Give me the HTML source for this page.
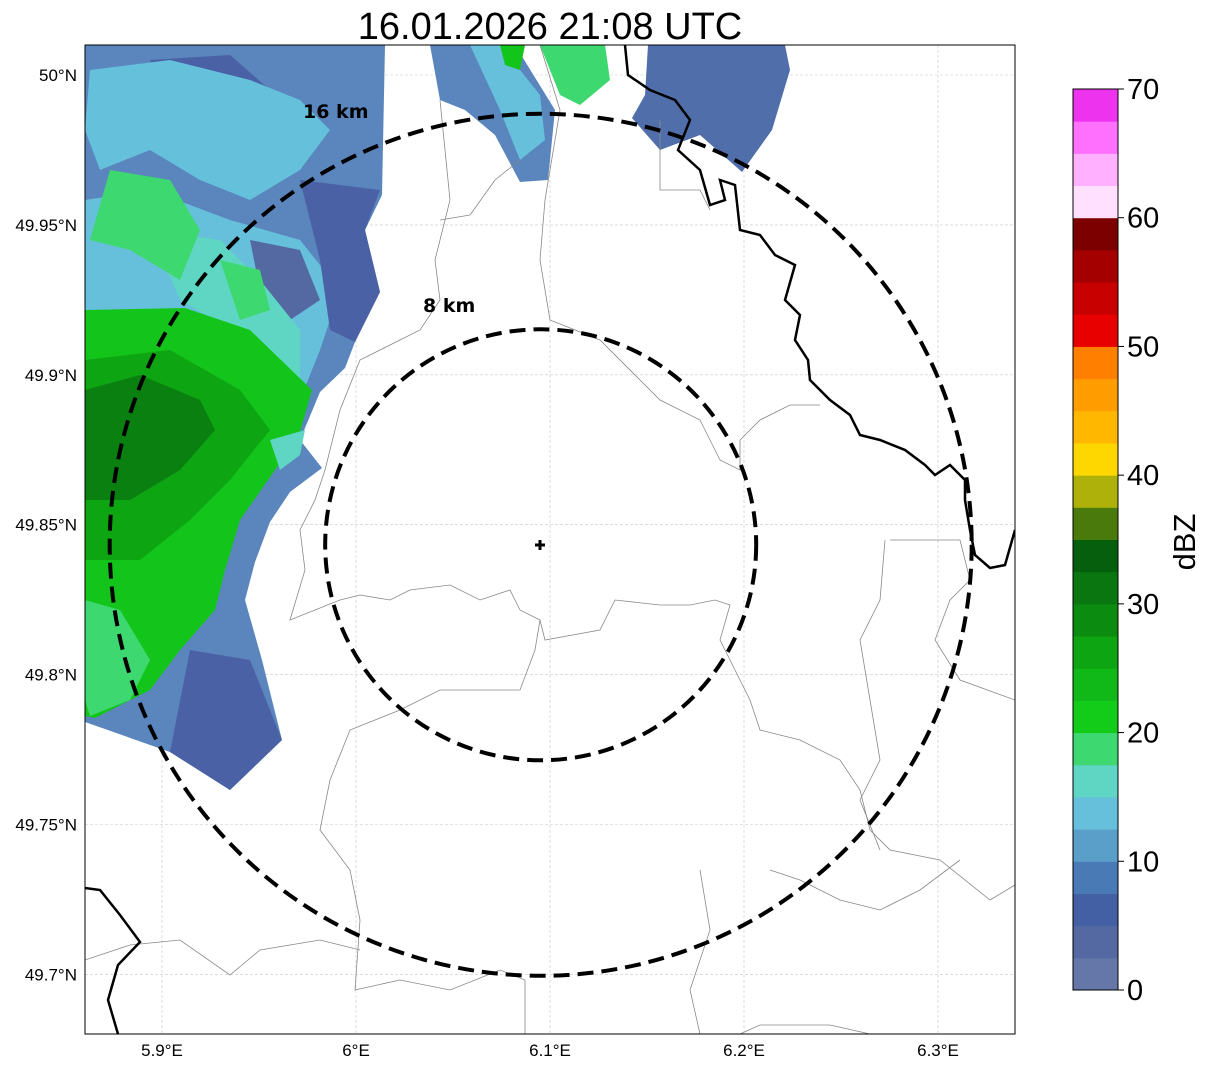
<!DOCTYPE html>
<html><head><meta charset="utf-8"><style>
html,body{margin:0;padding:0;background:#fff;}
svg{display:block;font-family:"Liberation Sans","DejaVu Sans",sans-serif;}
</style></head><body>
<svg id="chart" width="1207" height="1069" viewBox="0 0 1207 1069">
<defs><clipPath id="mapclip"><rect x="85" y="45" width="930" height="989"/></clipPath></defs>
<text x="550" y="39" text-anchor="middle" font-size="38" fill="#000">16.01.2026 21:08 UTC</text>
<g clip-path="url(#mapclip)">
<g id="grid"></g>
<g>
<polygon fill="#5a86bd" points="85,45 385,45 382,195 365,230 380,292 355,342 345,368 320,392 300,440 322,468 290,492 270,522 255,562 245,600 262,660 282,740 230,790 170,752 85,722"/>
<polygon fill="#4a62a5" points="150,60 230,55 270,90 230,120 170,110"/>
<polygon fill="#65c0dc" points="90,70 170,60 250,80 300,100 330,130 300,170 250,200 200,180 150,150 100,170 85,130"/>
<polygon fill="#66c0dc" points="85,200 150,190 230,220 300,240 340,290 320,350 300,400 290,440 260,470 200,330 120,320 85,310"/>
<polygon fill="#4a62a5" points="300,180 380,190 365,230 380,292 355,342 330,330 320,260"/>
<polygon fill="#5468a2" points="250,240 300,250 320,300 290,320 260,290"/>
<polygon fill="#4a62a5" points="190,650 250,660 282,740 230,790 170,752"/>
<polygon fill="#5fd6c4" points="150,230 220,240 260,280 300,330 300,380 250,340 180,300"/>
<polygon fill="#3dd870" points="110,170 170,180 200,230 180,280 130,250 90,240"/>
<polygon fill="#3dd870" points="220,260 260,270 270,310 240,320"/>
<polygon fill="#13c41a" points="85,310 185,308 250,330 312,390 300,432 275,470 240,520 225,570 215,610 180,650 150,690 95,718 85,716"/>
<polygon fill="#0ea512" points="85,360 170,350 240,390 270,430 230,480 190,520 140,560 85,560"/>
<polygon fill="#0a8010" points="85,390 140,375 200,400 215,430 180,470 130,500 85,500"/>
<polygon fill="#5fd6c4" points="270,440 305,430 300,455 280,470"/>
<polygon fill="#3dd870" points="85,600 120,610 150,660 130,700 90,716 85,700"/>
<polygon fill="#5a86bd" points="430,45 515,45 555,110 548,180 520,182 495,135 465,110 440,100"/>
<polygon fill="#66c0dc" points="470,45 500,45 540,95 545,140 520,160 500,110"/>
<polygon fill="#3dd870" points="540,45 605,45 610,80 580,105 560,95"/>
<polygon fill="#13c41a" points="500,45 525,45 520,70 505,65"/>
<polygon fill="#4f6eaa" points="648,45 785,45 790,70 772,130 742,172 700,135 660,150 632,118 645,95"/>
</g>
<g fill="none" stroke="#888" stroke-width="0.8">
<polyline points="540,45 560,110 545,200 540,260 550,320 600,340 640,380 660,400 700,420 720,460 740,470 740,440 760,420 790,405 820,405"/>
<polyline points="440,100 450,200 435,260 440,300 420,330 360,360 340,410 325,470 315,500 300,530 305,570 290,620 340,600 360,595 390,600 410,590 450,585 480,600 510,590 520,610 540,620 545,640 600,630 615,600 660,605 690,605 715,600 730,605 720,640 740,680 750,700 760,730 800,740 840,760 860,790 870,830 890,850 940,860 990,900 1015,885"/>
<polyline points="440,220 470,215 495,180 520,160"/>
<polyline points="660,120 660,190 700,190 710,210"/>
<polyline points="540,620 535,650 520,690 440,690 400,710 350,730 330,780 320,830 350,870 360,920 355,990 400,980 450,990 500,970 525,980 525,1034"/>
<polyline points="85,960 130,945 180,940 230,975 260,950 320,940 360,950"/>
<polyline points="700,870 710,930 690,990 700,1034"/>
<polyline points="770,870 800,880 840,900 880,910 920,890 960,860"/>
<polyline points="890,540 960,540 970,580 950,600 935,640 960,680 1015,700"/>
<polyline points="885,540 880,600 860,640 870,700 880,760 860,800 880,850"/>
<polyline points="740,1034 760,1025 830,1025 870,1034"/>
</g>
<g fill="none" stroke="#000" stroke-width="2.5">
<polyline points="625,45 628,75 650,90 675,100 690,120 678,150 700,170 710,205 725,200 720,180 735,185 740,230 760,235 775,255 795,265 785,300 800,315 795,340 808,360 810,380 830,400 850,415 860,435 880,440 905,450 925,465 935,475 950,465 965,480 965,500 970,530 975,555 990,568 1005,565 1015,530"/>
<polyline points="85,888 100,890 120,915 140,942 118,965 108,1000 118,1034"/>
</g>
<g id="rings"></g>
<text x="303" y="118" font-size="19" font-weight="bold" font-family="DejaVu Sans, sans-serif">16 km</text>
<text x="423" y="312" font-size="19" font-weight="bold" font-family="DejaVu Sans, sans-serif">8 km</text>
<g stroke="#000" stroke-width="3"><line x1="535" y1="545" x2="545" y2="545"/><line x1="540" y1="540" x2="540" y2="550"/></g>
</g>
<rect x="85" y="45" width="930" height="989" fill="none" stroke="#000" stroke-width="1"/>
<g id="ticks"></g>
<g id="cbar"></g>
<text transform="translate(1195,542) rotate(-90)" text-anchor="middle" font-size="31">dBZ</text>
</svg>
<script>
const lonTicks=[5.9,6.0,6.1,6.2,6.3];
const lonLabels=["5.9°E","6°E","6.1°E","6.2°E","6.3°E"];
const latTicks=[50.0,49.95,49.9,49.85,49.8,49.75,49.7];
const latLabels=["50°N","49.95°N","49.9°N","49.85°N","49.8°N","49.75°N","49.7°N"];
const ringKm=[8,16];
const siteLon=6.0952, siteLat=49.8433;
const cbarColors=["#6577a8","#5468a2","#4460a5","#4a7ab5","#5a9fca","#66c0dc","#5fd6c4","#3dd870","#13cc1a","#10b818","#0ea512","#0b8c10","#0a7610","#065f0c","#4a7a0c","#aeb10a","#ffd700","#ffb700","#ff9d00","#ff7f00","#e80000","#c80000","#a50000","#7d0000","#ffe0ff","#ffb0ff","#ff70ff","#ee33ee"];
const cbarTicks=[0,10,20,30,40,50,60,70];
const NS="http://www.w3.org/2000/svg";
const xS=lon=>162+(lon-5.9)*1940;
const yS=lat=>75+(50-lat)*2998;
const cb=v=>990-(v/70)*901;
function mk(tag,attrs,parent){const e=document.createElementNS(NS,tag);for(const k in attrs)e.setAttribute(k,attrs[k]);parent.appendChild(e);return e;}
const grid=document.getElementById('grid'),ticks=document.getElementById('ticks');
lonTicks.forEach((v,i)=>{
 const l=mk('line',{x1:xS(v),x2:xS(v),y1:45,y2:1034,stroke:'#c8c8c8','stroke-width':0.6,'stroke-dasharray':'3 2'},grid);
 
 
 const t=mk('text',{x:xS(v),y:1056,'text-anchor':'middle','font-size':17},ticks);t.textContent=lonLabels[i];
 
 
});
latTicks.forEach((v,i)=>{
 const l=mk('line',{x1:85,x2:1015,y1:yS(v),y2:yS(v),stroke:'#c8c8c8','stroke-width':0.6,'stroke-dasharray':'3 2'},grid);
 
 
 const t=mk('text',{x:77,y:yS(v)+6,'text-anchor':'end','font-size':17},ticks);t.textContent=latLabels[i];
 
 
});
const rings=document.getElementById('rings');
const pxPerKm=431/16;
ringKm.forEach(k=>{
 const c=mk('circle',{cx:xS(siteLon),cy:yS(siteLat),r:k*pxPerKm,fill:'none',stroke:'#000','stroke-width':4,'stroke-dasharray':'16 8'},rings);
 
 
});
const cbar=document.getElementById('cbar');
cbarColors.forEach((col,i)=>{
 const v0=i*2.5,v1=(i+1)*2.5;
 const r=mk('rect',{x:1073,y:cb(v1),width:45,height:cb(v0)-cb(v1)+0.5,fill:col},cbar);
 
 
});
mk('rect',{x:1073,y:89,width:45,height:901,fill:'none',stroke:'#000','stroke-width':1},cbar);
cbarTicks.forEach(v=>{
 mk('line',{x1:1118,x2:1124,y1:cb(v),y2:cb(v),stroke:'#000'},cbar);
 const t=mk('text',{x:1127,y:cb(v)+10,'font-size':29},cbar);t.textContent=v;
 
 
});
</script>
</body></html>
